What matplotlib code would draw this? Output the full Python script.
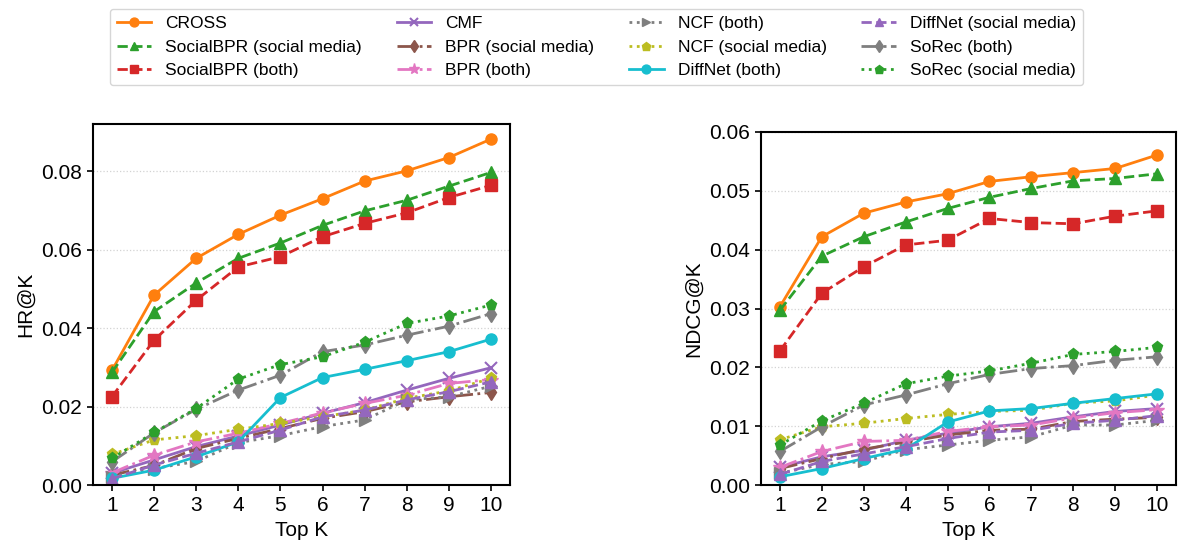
import matplotlib
matplotlib.use('Agg')
import matplotlib.pyplot as plt

plt.rcParams['font.family'] = ['Liberation Sans', 'DejaVu Sans']

top_k = [1, 2, 3, 4, 5, 6, 7, 8, 9, 10]

# HR@K
hr_cross = [0.0292, 0.0484, 0.0578, 0.0639, 0.0688, 0.0730, 0.0775, 0.0801, 0.0835, 0.0882]
hr_sbpr_sm = [0.0287, 0.0442, 0.0515, 0.0578, 0.0617, 0.0662, 0.0699, 0.0726, 0.0762, 0.0797]
hr_sbpr_both = [0.0225, 0.0369, 0.0471, 0.0556, 0.0582, 0.0633, 0.0667, 0.0694, 0.0733, 0.0764]
hr_cmf = [0.0030, 0.0064, 0.0098, 0.0125, 0.0153, 0.0183, 0.0210, 0.0242, 0.0272, 0.0299]
hr_bpr_sm = [0.0025, 0.0050, 0.0093, 0.0119, 0.0144, 0.0170, 0.0187, 0.0212, 0.0225, 0.0236]
hr_bpr_both = [0.0031, 0.0076, 0.0110, 0.0132, 0.0157, 0.0184, 0.0208, 0.0229, 0.0259, 0.0269]
hr_ncf_both = [0.0021, 0.0042, 0.0060, 0.0108, 0.0126, 0.0149, 0.0166, 0.0217, 0.0225, 0.0252]
hr_ncf_sm = [0.0078, 0.0115, 0.0126, 0.0142, 0.0157, 0.0174, 0.0191, 0.0221, 0.0240, 0.0272]
hr_diff_both = [0.0017, 0.0038, 0.0072, 0.0110, 0.0223, 0.0274, 0.0295, 0.0317, 0.0340, 0.0372]
hr_diff_sm = [0.0016, 0.0051, 0.0081, 0.0110, 0.0140, 0.0174, 0.0191, 0.0217, 0.0238, 0.0263]
hr_sorec_both = [0.0059, 0.0133, 0.0193, 0.0242, 0.0280, 0.0340, 0.0357, 0.0382, 0.0405, 0.0437]
hr_sorec_sm = [0.0068, 0.0134, 0.0195, 0.0270, 0.0307, 0.0327, 0.0364, 0.0412, 0.0431, 0.0459]

# NDCG@K
nd_cross = [0.0303, 0.0422, 0.0462, 0.0481, 0.0495, 0.0516, 0.0524, 0.0531, 0.0538, 0.0561]
nd_sbpr_sm = [0.0297, 0.0389, 0.0422, 0.0447, 0.0470, 0.0489, 0.0504, 0.0517, 0.0521, 0.0529]
nd_sbpr_both = [0.0228, 0.0326, 0.0371, 0.0408, 0.0416, 0.0453, 0.0446, 0.0444, 0.0457, 0.0466]
nd_cmf = [0.0030, 0.0048, 0.0059, 0.0076, 0.0088, 0.0099, 0.0105, 0.0116, 0.0125, 0.0130]
nd_bpr_sm = [0.0028, 0.0045, 0.0061, 0.0073, 0.0085, 0.0093, 0.0095, 0.0108, 0.0112, 0.0115]
nd_bpr_both = [0.0030, 0.0057, 0.0074, 0.0076, 0.0091, 0.0099, 0.0102, 0.0114, 0.0123, 0.0128]
nd_ncf_both = [0.0020, 0.0035, 0.0040, 0.0060, 0.0068, 0.0076, 0.0082, 0.0102, 0.0102, 0.0110]
nd_ncf_sm = [0.0077, 0.0099, 0.0105, 0.0113, 0.0120, 0.0125, 0.0127, 0.0139, 0.0143, 0.0153]
nd_diff_both = [0.0014, 0.0028, 0.0045, 0.0061, 0.0107, 0.0126, 0.0130, 0.0139, 0.0147, 0.0155]
nd_diff_sm = [0.0018, 0.0040, 0.0053, 0.0065, 0.0079, 0.0090, 0.0093, 0.0105, 0.0110, 0.0118]
nd_sorec_both = [0.0057, 0.0099, 0.0136, 0.0153, 0.0172, 0.0188, 0.0198, 0.0203, 0.0212, 0.0218]
nd_sorec_sm = [0.0068, 0.0109, 0.0139, 0.0172, 0.0185, 0.0194, 0.0207, 0.0222, 0.0227, 0.0234]

labels = ['CROSS', 'SocialBPR (social media)', 'SocialBPR (both)', 'CMF',
          'BPR (social media)', 'BPR (both)', 'NCF (both)', 'NCF (social media)',
          'DiffNet (both)', 'DiffNet (social media)', 'SoRec (both)', 'SoRec (social media)']
hr_data = [hr_cross, hr_sbpr_sm, hr_sbpr_both, hr_cmf, hr_bpr_sm, hr_bpr_both,
           hr_ncf_both, hr_ncf_sm, hr_diff_both, hr_diff_sm, hr_sorec_both, hr_sorec_sm]
nd_data = [nd_cross, nd_sbpr_sm, nd_sbpr_both, nd_cmf, nd_bpr_sm, nd_bpr_both,
           nd_ncf_both, nd_ncf_sm, nd_diff_both, nd_diff_sm, nd_sorec_both, nd_sorec_sm]

styles = [
    ('tab:orange', 'o', '-'),
    ('tab:green', '^', '--'),
    ('tab:red', 's', '--'),
    ('tab:purple', 'x', '-'),
    ('tab:brown', 'd', '-.'),
    ('tab:pink', '*', '-.'),
    ('tab:gray', '>', ':'),
    ('tab:olive', 'p', ':'),
    ('tab:cyan', 'o', '-'),
    ('tab:purple', '^', '--'),
    ('tab:gray', 'd', '-.'),
    ('tab:green', 'p', ':'),
]

fig = plt.figure(figsize=(11.81, 5.47), dpi=100)
ax1 = fig.add_axes([0.0787, 0.1133, 0.3531, 0.6597])
ax2 = fig.add_axes([0.6444, 0.1133, 0.3514, 0.6454])


def draw(ax, data, ylabel, ymax):
    handles = []
    for vals, lab, (c, m, ls) in zip(data, labels, styles):
        ms = 10 if m == '*' else 8
        h, = ax.plot(top_k, vals, color=c, marker=m, linestyle=ls, linewidth=2,
                     markersize=ms, label=lab, markeredgewidth=1.5 if m == 'x' else 1)
        handles.append(h)
    ax.set_ylim(0, ymax)
    ax.set_xticks(top_k)
    ax.set_xlabel('Top K', fontsize=15)
    ax.set_ylabel(ylabel, fontsize=15)
    ax.tick_params(labelsize=15, width=1.2, length=4.5)
    ax.grid(True, axis='y', linestyle=':', color='lightgray', linewidth=0.9)
    for sp in ax.spines.values():
        sp.set_linewidth(1.5)
    return handles


handles = draw(ax1, hr_data, 'HR@K', 0.092)
ax1.set_yticks([0.0, 0.02, 0.04, 0.06, 0.08])
draw(ax2, nd_data, 'NDCG@K', 0.06)
ax2.set_yticks([0.0, 0.01, 0.02, 0.03, 0.04, 0.05, 0.06])

fig.legend(handles=handles, loc='upper center', bbox_to_anchor=(0.505, 1.0),
           ncol=4, fontsize=12.5, markerscale=0.8, handlelength=2.0,
           columnspacing=2.0, frameon=True)

plt.savefig('out.png', dpi=100)
